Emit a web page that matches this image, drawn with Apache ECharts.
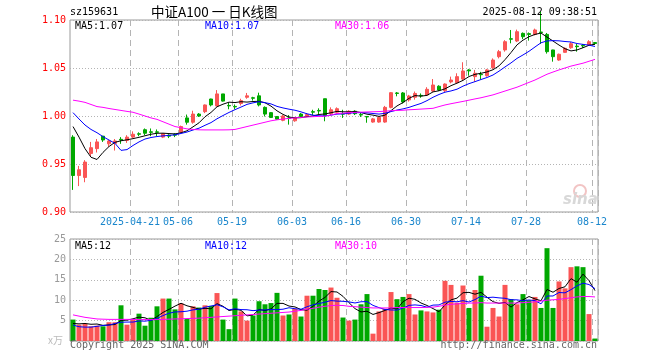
<!DOCTYPE html>
<html><head><meta charset="utf-8">
<script src="https://cdn.jsdelivr.net/npm/echarts@6/dist/echarts.min.js"></script>
<style>html,body{margin:0;padding:0;background:#fff}#c{width:660px;height:360px}</style>
</head><body><div id="c"></div>
<script>
const dates = ["2025-04-07","2025-04-08","2025-04-09","2025-04-10","2025-04-11","2025-04-14","2025-04-15","2025-04-16","2025-04-17","2025-04-18","2025-04-21","2025-04-22","2025-04-23","2025-04-24","2025-04-25","2025-04-28","2025-04-29","2025-04-30","2025-05-06","2025-05-07","2025-05-08","2025-05-09","2025-05-12","2025-05-13","2025-05-14","2025-05-15","2025-05-16","2025-05-19","2025-05-20","2025-05-21","2025-05-22","2025-05-23","2025-05-26","2025-05-27","2025-05-28","2025-05-29","2025-05-30","2025-06-03","2025-06-04","2025-06-05","2025-06-06","2025-06-09","2025-06-10","2025-06-11","2025-06-12","2025-06-13","2025-06-16","2025-06-17","2025-06-18","2025-06-19","2025-06-20","2025-06-23","2025-06-24","2025-06-25","2025-06-26","2025-06-27","2025-06-30","2025-07-01","2025-07-02","2025-07-03","2025-07-04","2025-07-07","2025-07-08","2025-07-09","2025-07-10","2025-07-11","2025-07-14","2025-07-15","2025-07-16","2025-07-17","2025-07-18","2025-07-21","2025-07-22","2025-07-23","2025-07-24","2025-07-25","2025-07-28","2025-07-29","2025-07-30","2025-07-31","2025-08-01","2025-08-04","2025-08-05","2025-08-06","2025-08-07","2025-08-08","2025-08-11","2025-08-12"];
const tickDates = ["2025-04-21","2025-05-06","2025-05-19","2025-06-03","2025-06-16","2025-06-30","2025-07-14","2025-07-28","2025-08-12"];
const tickLabels = ["2025-04-21","05-06","05-19","06-03","06-16","06-30","07-14","07-28","08-12"];
const priceTicks = [0.90, 0.95, 1.00, 1.05, 1.10];
const volTicks = [0, 5, 10, 15, 20, 25];

const open = [0.978,0.938,0.936,0.961,0.966,0.979,0.971,0.9715,0.9757,0.9745,0.978,0.9815,0.9857,0.9835,0.9835,0.978,0.980,0.981,0.983,0.998,0.9935,1.002,1.0045,1.0177,1.0105,1.023,1.011,1.010,1.013,1.0195,1.019,1.021,1.009,1.0035,0.9995,0.9955,0.998,0.995,1.002,0.9998,1.0045,1.0058,1.018,1.0025,1.004,1.0023,1.002,1.005,1.0015,0.9995,0.9937,0.9937,0.9937,1.009,1.024,1.024,1.0167,1.0195,1.0215,1.0219,1.026,1.031,1.0264,1.0355,1.0347,1.0385,1.048,1.041,1.0435,1.042,1.0503,1.0618,1.0688,1.0805,1.0781,1.0861,1.0858,1.085,1.0875,1.085,1.0688,1.0583,1.0663,1.0711,1.0728,1.0735,1.074,1.0765];
const close = [0.938,0.944,0.952,0.967,0.973,0.975,0.974,0.974,0.975,0.978,0.981,0.981,0.982,0.983,0.983,0.9815,0.979,0.980,0.989,0.9935,1.002,1.000,1.0115,1.0115,1.023,1.0155,1.0105,1.0095,1.016,1.021,1.0185,1.0115,1.002,0.9985,0.9967,1.000,0.9975,0.998,0.9995,1.0015,1.004,1.0052,1.0005,1.0065,1.0076,1.002,1.005,1.0024,1.001,0.999,0.997,0.9986,1.009,1.0243,1.0235,1.0146,1.0208,1.0235,1.021,1.0278,1.0323,1.027,1.0333,1.0375,1.041,1.0469,1.047,1.0445,1.043,1.048,1.0583,1.067,1.0774,1.080,1.0878,1.0826,1.085,1.0896,1.087,1.067,1.0618,1.0643,1.0705,1.0753,1.0722,1.073,1.0774,1.0755];
const high = [0.980,0.948,0.954,0.973,0.976,0.979,0.975,0.976,0.978,0.980,0.984,0.983,0.987,0.987,0.986,0.982,0.981,0.982,0.990,1.0015,1.0055,1.003,1.012,1.018,1.027,1.023,1.014,1.012,1.018,1.024,1.020,1.0243,1.010,1.004,1.000,1.001,1.001,0.999,1.003,1.003,1.0065,1.008,1.018,1.009,1.009,1.0065,1.006,1.006,1.0035,1.000,0.998,0.9995,1.0105,1.025,1.025,1.025,1.022,1.0255,1.0235,1.030,1.0385,1.032,1.034,1.041,1.0445,1.056,1.049,1.048,1.046,1.049,1.060,1.0688,1.079,1.0896,1.090,1.087,1.087,1.091,1.109,1.0865,1.069,1.065,1.0715,1.077,1.075,1.075,1.079,1.077];
const low = [0.923,0.927,0.931,0.958,0.962,0.973,0.968,0.964,0.971,0.972,0.977,0.979,0.980,0.979,0.979,0.977,0.977,0.978,0.982,0.991,0.992,0.999,1.003,1.010,1.010,1.015,1.007,1.007,1.011,1.018,1.016,1.010,0.9995,0.998,0.996,0.9945,0.991,0.994,0.998,0.999,1.001,1.002,0.9945,1.001,1.0025,0.998,1.001,1.001,0.999,0.993,0.993,0.993,0.993,1.008,1.0205,1.013,1.015,1.017,1.019,1.021,1.025,1.026,1.025,1.034,1.034,1.037,1.042,1.0357,1.038,1.041,1.049,1.060,1.067,1.0757,1.077,1.080,1.0785,1.084,1.075,1.065,1.0566,1.0575,1.066,1.070,1.067,1.071,1.0735,1.0745];

const ma5 = [0.989,0.978,0.966,0.957,0.9547,0.9621,0.9682,0.9726,0.9742,0.9752,0.9764,0.9778,0.9794,0.981,0.982,0.9821,0.9817,0.9813,0.9825,0.9846,0.9887,0.9929,0.9992,1.0037,1.0096,1.0123,1.0144,1.014,1.0149,1.0145,1.0151,1.0153,1.0138,1.0103,1.0054,1.0017,0.9989,0.9981,0.9983,0.9993,1.0001,1.0016,1.0021,1.0034,1.0048,1.0044,1.0043,1.0047,1.0036,1.0019,1.0009,0.9996,1.0009,1.0056,1.0105,1.014,1.0184,1.0213,1.0207,1.0215,1.0251,1.0263,1.0283,1.0316,1.0342,1.0371,1.0411,1.0434,1.0445,1.0459,1.0482,1.0522,1.0587,1.0661,1.0741,1.079,1.0826,1.085,1.0864,1.0822,1.0781,1.0739,1.0701,1.0678,1.0688,1.0711,1.0737,1.0747];
const ma10 = [1.0035,0.9969,0.9906,0.986,0.9826,0.9785,0.975,0.9715,0.9642,0.965,0.9693,0.973,0.976,0.9776,0.9786,0.9793,0.9798,0.9804,0.9818,0.9833,0.9854,0.9873,0.9903,0.9931,0.9971,1.0005,1.0037,1.0066,1.0093,1.0121,1.0137,1.0149,1.0139,1.0126,1.01,1.0084,1.0071,1.006,1.0043,1.0023,1.0009,1.0002,1.0001,1.0009,1.002,1.0022,1.0029,1.0034,1.0035,1.0033,1.0026,1.002,1.0028,1.0046,1.0062,1.0074,1.009,1.0111,1.0131,1.016,1.0195,1.0224,1.0248,1.0261,1.0279,1.0311,1.0337,1.0358,1.038,1.0401,1.0427,1.0467,1.0511,1.0553,1.06,1.0636,1.0674,1.0719,1.0763,1.0782,1.0785,1.0783,1.0776,1.0771,1.0755,1.0746,1.0738,1.0724];
const ma30 = [1.0165,1.0155,1.0142,1.012,1.0098,1.009,1.0078,1.0068,1.0058,1.0048,1.0039,1.002,1.0,0.998,0.9965,0.994,0.9915,0.989,0.9878,0.9866,0.986,0.9856,0.9855,0.9855,0.9855,0.9855,0.9856,0.986,0.9875,0.989,0.9905,0.992,0.9935,0.995,0.996,0.9968,0.9975,0.998,0.9985,0.999,0.9993,0.9996,0.9998,1.001,1.0025,1.003,1.0035,1.0038,1.004,1.0042,1.0044,1.0046,1.005,1.0055,1.0058,1.006,1.0065,1.0068,1.0072,1.0076,1.008,1.0098,1.0115,1.0128,1.014,1.0152,1.0165,1.0178,1.019,1.0205,1.022,1.024,1.026,1.028,1.030,1.0325,1.035,1.0375,1.0405,1.0435,1.0458,1.048,1.050,1.052,1.0535,1.055,1.057,1.059];

const volume = [5.25,4.0,4.2,3.6,3.75,3.6,4.6,4.6,8.75,4.0,5.25,6.7,3.75,5.7,8.5,10.4,10.4,7.75,9.2,5.4,8.5,8.2,8.75,8.6,11.75,5.25,2.9,10.4,7.25,5.0,6.25,9.75,9.0,9.3,11.8,6.25,6.5,7.9,6.0,11.1,11.1,12.75,12.5,13.1,10.6,5.75,5.0,5.25,9.0,11.5,1.8,7.25,7.9,12.0,10.25,10.8,11.5,6.5,7.5,7.25,7.0,7.67,14.75,13.75,9.4,13.6,8.1,12.5,16.0,3.5,8.1,6.0,13.75,10.25,9.0,11.5,10.0,10.8,8.1,22.75,8.1,14.6,12.9,18.1,18.3,18.1,6.6,0.6];
const volMa5 = [4.3,4.2,4.3,4.1,4.16,3.83,3.95,4.03,5.06,5.11,5.44,5.86,5.69,5.08,5.98,7.01,7.75,8.55,9.25,8.63,8.25,7.81,8.01,7.89,9.16,8.51,7.45,7.78,7.51,6.16,6.36,7.73,7.45,7.86,9.22,9.22,8.57,8.35,7.69,7.55,8.52,9.77,10.69,12.11,12.01,10.94,9.39,7.94,7.12,7.3,6.51,6.96,7.49,8.09,7.84,9.64,10.49,10.21,9.31,8.71,7.95,7.18,8.83,10.08,10.51,11.83,11.92,11.47,11.92,10.74,9.64,9.22,9.47,8.32,9.42,10.1,10.9,10.31,9.88,12.63,11.95,12.87,13.29,15.29,14.4,16.4,14.8,12.34];
const volMa10 = [3.9,3.5,3.4,3.4,3.6,3.8,3.9,4.3,4.6,4.64,4.64,4.91,4.86,5.07,5.55,6.23,6.81,7.12,7.17,7.31,7.63,7.78,8.28,8.57,8.9,8.38,7.63,7.9,7.7,7.66,7.44,7.59,7.62,7.69,7.69,7.79,8.15,7.9,7.78,8.39,8.87,9.17,9.52,9.9,9.78,9.73,9.58,9.32,9.62,9.66,8.73,8.18,7.72,7.61,7.57,8.08,8.73,8.85,8.7,8.28,8.8,8.84,9.52,9.7,9.61,9.89,9.55,10.15,11.0,10.63,10.74,10.57,10.47,10.12,10.08,9.87,10.06,9.89,9.1,11.03,11.03,11.89,11.8,12.59,13.52,14.18,13.84,12.82];
const volMa30 = [6.4,6.1,5.8,5.6,5.4,5.35,5.3,5.3,5.3,5.3,5.3,5.25,5.25,5.25,5.25,5.3,5.35,5.4,5.45,5.5,5.55,5.6,5.7,5.8,5.9,6.0,6.1,6.2,6.3,6.4,6.5,6.6,6.7,6.8,6.9,7.0,7.1,7.3,7.5,7.8,8.0,8.3,8.5,8.7,8.75,8.7,8.5,8.4,8.3,8.2,8.1,8.1,8.1,8.1,8.2,8.2,8.2,8.2,8.2,8.25,8.3,8.5,8.8,9.0,9.1,9.2,9.3,9.3,9.4,9.3,9.3,9.3,9.3,9.3,9.3,9.4,9.5,9.6,9.8,10.0,10.1,10.2,10.4,10.6,10.8,10.9,10.9,10.8];

const UP = '#fa5555', DOWN = '#00a800';
const MONO = '"DejaVu Sans Mono", "Liberation Mono", monospace';
const GRIDC = '#b4b4b4';

const isTick = (idx, val) => tickDates.indexOf(val) >= 0;
const tickText = (val) => { const k = tickDates.indexOf(val); return k >= 0 ? tickLabels[k] : ''; };

const candleData = dates.map((d, i) => [open[i], close[i], low[i], high[i]]);
const volData = volume.map((v, i) => ({ value: v, itemStyle: { color: close[i] >= open[i] ? UP : DOWN } }));

function txt(text, x, y, fill, size, align, family) {
  return { type: 'text', silent: true, z: 100,
    style: { text: text, x: x, y: y, fill: fill, font: size + 'px ' + (family || MONO),
      textAlign: align || 'left', textVerticalAlign: 'middle', align: align || 'left', verticalAlign: 'middle' } };
}

const chart = echarts.init(document.getElementById('c'), null, { renderer: 'canvas' });
const xBase = {
  type: 'category', data: dates, boundaryGap: true,
  axisLine: { show: false }, axisTick: { show: false },
  splitLine: { show: true, interval: isTick, lineStyle: { color: GRIDC, type: [6, 4], width: 1 } }
};
chart.setOption({
  animation: false,
  backgroundColor: '#fff',
  grid: [
    { left: 70, top: 20, width: 528, height: 192, show: true, borderColor: '#9a9a9a', borderWidth: 1 },
    { left: 70, top: 239, width: 528, height: 102, show: true, borderColor: '#9a9a9a', borderWidth: 1 }
  ],
  xAxis: [
    Object.assign({}, xBase, { gridIndex: 0,
      axisLabel: { show: true, interval: isTick, formatter: tickText, color: '#1a86cc', fontSize: 10,
        fontFamily: MONO, margin: 5, padding: [0, 6, 0, 0] } }),
    Object.assign({}, xBase, { gridIndex: 1, axisLabel: { show: false } })
  ],
  yAxis: [
    { gridIndex: 0, type: 'value', min: priceTicks[0], max: priceTicks[priceTicks.length - 1], interval: 0.05,
      axisLine: { show: false }, axisTick: { show: false },
      axisLabel: { color: '#ff0000', fontSize: 10, fontFamily: MONO, margin: 4, formatter: v => v.toFixed(2) },
      splitLine: { show: true, lineStyle: { color: GRIDC, type: [1, 2] } } },
    { gridIndex: 1, type: 'value', min: volTicks[0], max: volTicks[volTicks.length - 1], interval: 5,
      axisLine: { show: false }, axisTick: { show: false },
      axisLabel: { color: '#999', fontSize: 10, fontFamily: MONO, margin: 4, formatter: v => v === 0 ? '' : String(v) },
      splitLine: { show: true, lineStyle: { color: GRIDC, type: [1, 2] } } }
  ],
  series: [
    { type: 'candlestick', xAxisIndex: 0, yAxisIndex: 0, data: candleData, barWidth: 4, clip: false,
      itemStyle: { color: UP, color0: DOWN, borderColor: UP, borderColor0: DOWN, borderWidth: 1 } },
    { type: 'line', xAxisIndex: 0, yAxisIndex: 0, data: ma5, symbol: 'none', lineStyle: { color: '#000', width: 1 }, z: 3 },
    { type: 'line', xAxisIndex: 0, yAxisIndex: 0, data: ma10, symbol: 'none', lineStyle: { color: '#0000ff', width: 1 }, z: 3 },
    { type: 'line', xAxisIndex: 0, yAxisIndex: 0, data: ma30, symbol: 'none', lineStyle: { color: '#ff00ff', width: 1 }, z: 3 },
    { type: 'bar', xAxisIndex: 1, yAxisIndex: 1, data: volData, barWidth: 5 },
    { type: 'line', xAxisIndex: 1, yAxisIndex: 1, data: volMa5, symbol: 'none', lineStyle: { color: '#000', width: 1 }, z: 3 },
    { type: 'line', xAxisIndex: 1, yAxisIndex: 1, data: volMa10, symbol: 'none', lineStyle: { color: '#0000ff', width: 1 }, z: 3 },
    { type: 'line', xAxisIndex: 1, yAxisIndex: 1, data: volMa30, symbol: 'none', lineStyle: { color: '#ff00ff', width: 1 }, z: 3 }
  ],
  graphic: [
    txt('sz159631', 70, 12, '#000', 10),
    txt('中证A100 一 日K线图', 151, 12, '#000', 13.5, 'left', '"Noto Sans CJK SC", sans-serif'),
    txt('2025-08-12 09:38:51', 597, 12, '#000', 10, 'right'),
    txt('MA5:1.07', 75, 26, '#000', 10),
    txt('MA10:1.07', 205, 26, '#0000ff', 10),
    txt('MA30:1.06', 335, 26, '#ff00ff', 10),
    txt('MA5:12', 75, 246, '#000', 10),
    txt('MA10:12', 205, 246, '#0000ff', 10),
    txt('MA30:10', 335, 246, '#ff00ff', 10),
    txt('x万', 48, 340, '#bbb', 10, 'left', '"Noto Sans CJK SC", sans-serif'),
    txt('Copyright 2025 SINA.COM', 70, 345, '#666', 10),
    txt('http://finance.sina.com.cn', 597, 345, '#666', 10, 'right'),
    { type: 'circle', silent: true, z: 1, shape: { cx: 580, cy: 191, r: 6 }, style: { fill: 'none', stroke: '#f2c4c4', lineWidth: 2 } },
    { type: 'text', silent: true, z: 1, style: { text: 'sina', x: 563, y: 200, fill: '#d8d8d8',
        font: 'italic bold 15px "DejaVu Sans", sans-serif', textVerticalAlign: 'middle', verticalAlign: 'middle' } }
  ]
});
</script></body></html>
